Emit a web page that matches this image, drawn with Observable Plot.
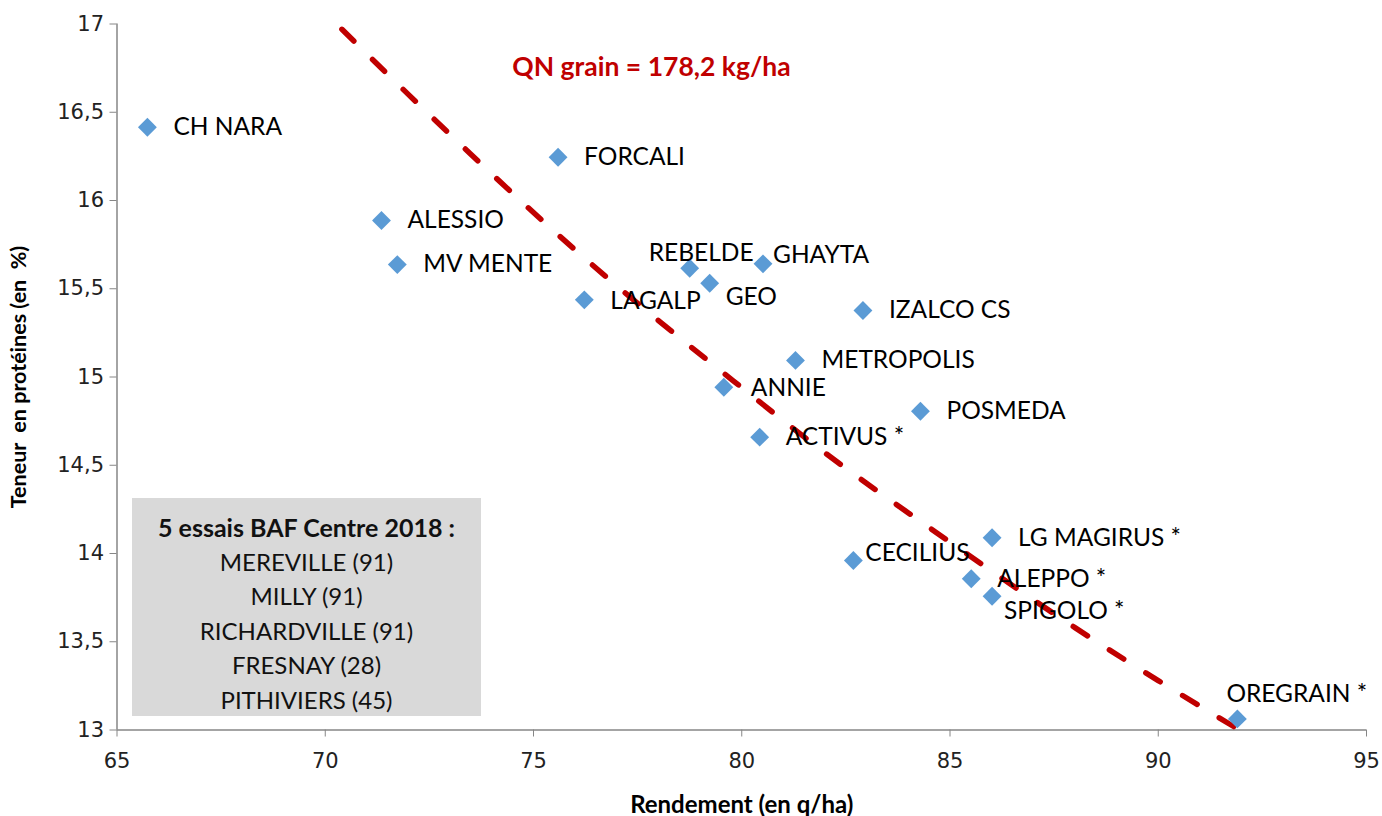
<!DOCTYPE html>
<html><head><meta charset="utf-8">
<script src="https://cdn.jsdelivr.net/npm/d3@7"></script>
<script src="https://cdn.jsdelivr.net/npm/@observablehq/plot@0.6"></script>
<style>
body{margin:0;background:#fff;}
#wrap{position:relative;width:1382px;height:816px;}
#legend{position:absolute;z-index:2;left:132px;top:498px;width:349px;height:218px;background:#d9d9d9;font-family:Lato,sans-serif;font-size:24px;color:#111;text-align:center;line-height:34.4px;padding-top:11.5px;box-sizing:border-box}
#legend b{font-weight:bold;font-size:25px}
</style></head><body><div id="wrap"><div id="legend"></div></div>
<script>
const names = ["CH NARA","FORCALI","ALESSIO","MV MENTE","REBELDE","GHAYTA","GEO","LAGALP","IZALCO CS","METROPOLIS","ANNIE","POSMEDA","ACTIVUS *","LG MAGIRUS *","CECILIUS","ALEPPO *","SPIGOLO *","OREGRAIN *"];
const yields = [65.73,75.59,71.35,71.73,78.75,80.51,79.23,76.22,82.91,81.29,79.57,84.29,80.43,86.01,82.68,85.51,86.01,91.90];
const proteins = [16.415,16.245,15.887,15.637,15.616,15.641,15.531,15.437,15.377,15.094,14.942,14.806,14.659,14.089,13.960,13.857,13.758,13.063];
const curveX = [70.4,72,74,76,78,80,82,84,86,88,90,91.95];
const curveY = [16.97,16.6,16.15,15.72,15.32,14.94,14.57,14.23,13.9,13.58,13.28,13.0];
const xTicks = [65,70,75,80,85,90,95];
const yTicks = [13,13.5,14,14.5,15,15.5,16,16.5,17];
const curveLabel = "QN grain = 178,2 kg/ha";
const xTitle = "Rendement (en q/ha)";
const yTitle = "Teneur  en protéines (en  %)";
const legendTitle = "5 essais BAF Centre 2018 :";
const legendLines = ["MEREVILLE (91)","MILLY (91)","RICHARDVILLE (91)","FRESNAY (28)","PITHIVIERS (45)"];

const points = names.map((n,i)=>({name:n, x:yields[i], y:proteins[i]}));
const curve = curveX.map((x,i)=>({x, y:curveY[i]}));

// label placement (pixel offsets from the marker)
const defaultOffset = {dx:26, dy:0};
const offsets = {
  "REBELDE":{dx:-41,dy:-15},
  "GHAYTA":{dx:10,dy:-9},
  "GEO":{dx:16,dy:14},
  "LAGALP":{dx:26,dy:1},
  "CECILIUS":{dx:12,dy:-7},
  "SPIGOLO *":{dx:12,dy:15},
  "OREGRAIN *":{dx:-11,dy:-25},
  "ANNIE":{dx:27,dy:1}
};

const fmt = d => String(d).replace(".", ",");
const labelFont = "Lato, sans-serif";

const labelMarks = points.map(p => {
  const o = offsets[p.name] || defaultOffset;
  return Plot.text([p], {x:"x", y:"y", text:"name", dx:o.dx, dy:o.dy, textAnchor:"start",
    fontSize:24.5, fill:"#000", fontFamily:labelFont});
});

const chart = Plot.plot({
  width:1382, height:816,
  marginLeft:116.5, marginRight:16, marginTop:23.5, marginBottom:86.5,
  style:{fontFamily:"DejaVu Sans, sans-serif", background:"#fff", overflow:"visible"},
  x:{domain:[65,95]},
  y:{domain:[13,17]},
  marks:[
    Plot.axisX(xTicks, {tickSize:7, tickPadding:16, fontSize:21, stroke:"#868686", fill:"#222", label:null, tickFormat:fmt}),
    Plot.axisY(yTicks, {tickSize:7, tickPadding:6, fontSize:21, stroke:"#868686", fill:"#222", label:null, tickFormat:fmt}),
    Plot.ruleX([65], {stroke:"#868686", strokeWidth:1.5}),
    Plot.ruleY([13], {stroke:"#868686", strokeWidth:1.5}),
    Plot.line(curve, {x:"x", y:"y", curve:"natural", stroke:"#c00000", strokeWidth:5.5, strokeDasharray:"17,26", strokeLinecap:"round"}),
    Plot.dot(points, {x:"x", y:"y", symbol:"diamond2", r:8.5, fill:"#5b9bd5", stroke:"none"}),
    ...labelMarks,
    Plot.text([curveLabel], {frameAnchor:"top-left", dx:534.5, dy:43.5, textAnchor:"middle", lineAnchor:"middle", fontSize:26.5, fontWeight:"bold", fill:"#c00000", fontFamily:labelFont}),
    Plot.text([xTitle], {frameAnchor:"bottom", dy:75.5, lineAnchor:"middle", textAnchor:"middle", fontSize:24, fontWeight:"bold", fill:"#000", fontFamily:labelFont}),
    Plot.text([yTitle], {frameAnchor:"left", dx:-98, rotate:-90, textAnchor:"middle", lineAnchor:"middle", fontSize:21.5, fontWeight:"bold", fill:"#000", fontFamily:labelFont})
  ]
});
document.getElementById("wrap").appendChild(chart);
const lg = document.getElementById("legend");
lg.innerHTML = "<b>" + legendTitle + "</b><br>" + legendLines.join("<br>");
</script>
</body></html>
